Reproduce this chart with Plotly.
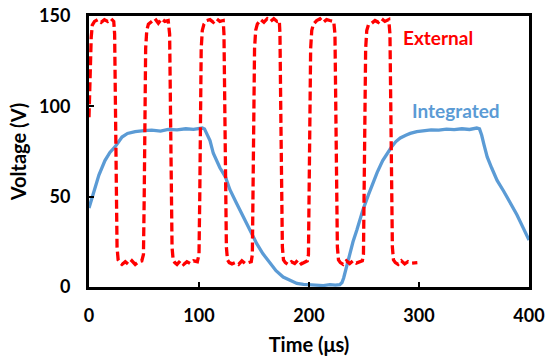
import plotly.graph_objects as go

# Integrated (blue) waveform
int_t = [0, 2, 5.5, 9, 14.5, 19, 23.6, 27, 30, 35, 42, 50, 57, 65, 72, 80, 88, 95, 103, 105, 107, 110, 113,
         119, 124, 128, 134, 140, 146, 152.5, 158, 164.5, 170, 176.5, 183, 189, 195, 201, 207, 213, 219, 224, 228,
         230, 231.5, 234, 237, 240, 243.5, 249, 254, 258, 262, 267, 271, 275, 279, 283, 288, 292, 298, 304,
         311, 318, 325, 332, 339, 346, 352.5, 355, 357, 359, 362, 366, 371, 377, 383, 389, 394.5, 400]
int_v = [43.7, 48, 55, 62, 70, 74.5, 77.5, 80.5, 83, 85, 86, 86.5, 86.8, 86.3, 87.2, 87, 87.6, 87.2, 88, 87.5, 85, 81, 74,
         66, 61, 54, 46.5, 39, 31.5, 24, 18.5, 13, 9, 5.5, 3.5, 2, 1.5, 1.2, 1, 0.8, 1.3, 1, 1.3,
         2.5, 5, 11, 19, 25, 31.5, 42.6, 51, 57.5, 63.5, 70, 74, 77.5, 80.5, 82.5, 84, 85, 86, 86.3,
         87, 86.8, 87.4, 87.1, 87.6, 87.2, 88, 87.5, 84, 79, 72, 66, 59, 53, 46.5, 40, 33, 26]

# External (red) waveform
ext_t = [0, 1, 2, 3, 5, 8, 11, 14, 17, 20, 22.5,
         23.3, 24, 24.7, 25.5, 26.5, 28, 30, 33, 36, 39, 42, 45, 48,
         49.5, 50.2, 50.8, 51.5, 52.5, 54, 57, 60, 63, 66, 69, 72,
         73.3, 74, 74.7, 75.5, 76.5, 78, 80, 83, 86, 89, 92, 95, 98.5,
         100, 100.7, 101.3, 102, 103, 104.5, 107, 110, 113, 116, 119, 122,
         122.7, 123.4, 124.1, 124.9, 125.9, 127.5, 130, 133, 136, 139, 142, 145, 147.5,
         148.5, 149.2, 149.8, 150.5, 151.5, 153, 156, 159, 162, 165, 168, 171, 173,
         173.6, 174.3, 175, 175.8, 176.8, 178.5, 181, 184, 187, 190, 193, 196, 198.5,
         199.5, 200.2, 200.8, 201.5, 202.5, 204, 207, 210, 213, 216, 219, 222.5,
         223.6, 224.3, 225, 225.8, 226.8, 228.5, 231, 234, 237, 240, 243, 246, 248.5,
         249.5, 250.2, 250.8, 251.5, 252.5, 254, 257, 260, 263, 266, 269, 272.5,
         273.6, 274.3, 275, 275.8, 276.8, 278.5, 281, 284, 287, 290, 293, 296, 298.5]
ext_v = [94, 120, 138, 145, 147, 148, 146.5, 148, 147, 148.5, 147,
         140, 100, 50, 22, 15, 13.5, 12.5, 14, 12.5, 14.5, 12.5, 14, 14.5,
         18, 50, 100, 132, 142, 145.5, 147, 148.5, 146, 148.5, 147, 147.5,
         140, 100, 50, 22, 15, 13.5, 12.5, 14.5, 12.5, 14, 13, 14.5, 14,
         18, 50, 100, 132, 142, 145.5, 147.5, 148, 146.5, 148.5, 147, 147.5,
         140, 100, 50, 22, 15, 13.5, 12.8, 13.5, 12.5, 14.5, 13, 13.5, 14,
         18, 50, 100, 132, 142, 145.5, 148, 146.5, 148.5, 147, 148.5, 147, 147.5,
         140, 100, 50, 22, 15, 13.5, 12.5, 14, 13, 15, 12.8, 14, 14.5,
         18, 50, 100, 132, 142, 145.5, 147.5, 148.5, 146.5, 148, 147.5, 147,
         140, 100, 50, 22, 15, 13.5, 12.5, 14.5, 13, 14.5, 13.2, 14, 14.5,
         18, 50, 100, 132, 142, 145, 146, 147.5, 146.5, 148.5, 147, 148,
         140, 100, 50, 22, 15, 13.5, 12.5, 14.5, 12.8, 14, 13.2, 13.5, 13.5]

x_ticks = [0, 100, 200, 300, 400]
y_ticks = [0, 50, 100, 150]

BLUE = "#5B9BD5"
RED = "#FF0000"
FONT = "Lato"

fig = go.Figure()
fig.add_trace(go.Scatter(x=int_t, y=int_v, mode="lines", name="Integrated",
                         line=dict(color=BLUE, width=3.3)))
fig.add_trace(go.Scatter(x=ext_t, y=ext_v, mode="lines", name="External",
                         line=dict(color=RED, width=3.3, dash="9px,4px")))

fig.add_annotation(x=317, y=138, text="<b>External</b>", showarrow=False,
                   font=dict(family=FONT, size=19, color=RED), xanchor="center", yanchor="middle")
fig.add_annotation(x=334, y=97.5, text="<b>Integrated</b>", showarrow=False,
                   font=dict(family=FONT, size=19, color=BLUE), xanchor="center", yanchor="middle")

axis_common = dict(showgrid=False, zeroline=False, showline=True, mirror=True,
                   linecolor="black", linewidth=3, ticks="inside", ticklen=5,
                   tickwidth=2, tickcolor="black", automargin=False,
                   tickfont=dict(family=FONT, size=18, color="black", weight="bold"))

fig.update_layout(
    width=547, height=362,
    margin=dict(l=89, r=18, t=16, b=75),
    paper_bgcolor="white", plot_bgcolor="white",
    showlegend=False,
    xaxis=dict(range=[0, 400], tickvals=x_ticks, ticklabelstandoff=10,
               title=dict(text="<b>Time (μs)</b>", font=dict(family=FONT, size=20, color="black"), standoff=14),
               **axis_common),
    yaxis=dict(range=[0, 150], tickvals=y_ticks, ticklabelstandoff=12,
               title=dict(text="<b>Voltage (V)</b>", font=dict(family=FONT, size=20, color="black"), standoff=8),
               **axis_common),
)

fig.write_html("out.html")
